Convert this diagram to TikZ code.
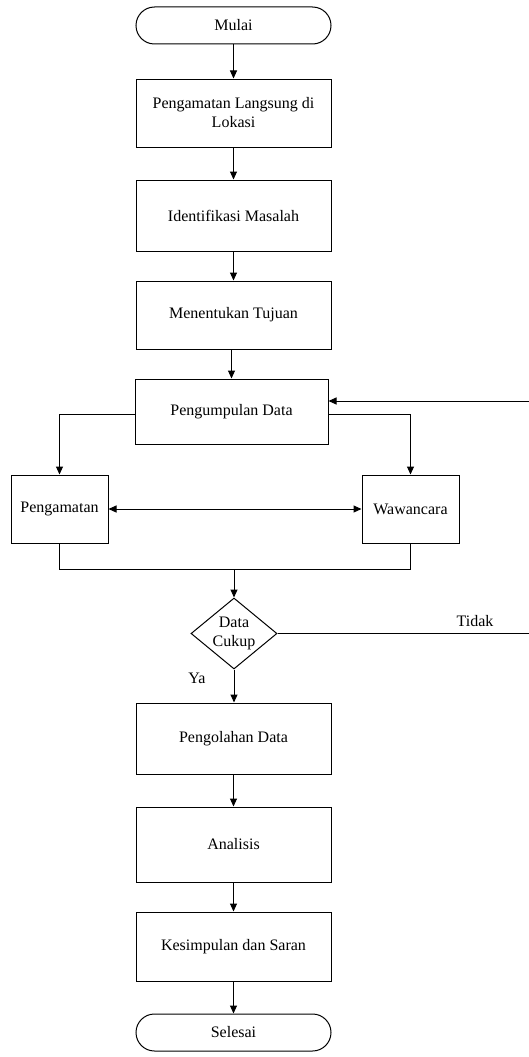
\documentclass[tikz,border=0pt]{standalone}
\usepackage{fontspec}
\setmainfont{Liberation Serif}
\usetikzlibrary{arrows.meta,shapes.geometric,shapes.misc}
\tikzset{
  every node/.style={font=\fontsize{16}{19}\selectfont},
  boxnode/.style={draw, line width=1pt, rectangle, minimum width=195pt, align=center, inner sep=0pt},
  termnode/.style={draw, line width=1pt, rounded rectangle, minimum width=195pt, minimum height=37pt, inner sep=0pt},
  conn/.style={line width=1pt, -{Triangle[length=8pt,width=7pt]}},
  plain/.style={line width=1pt},
}
\begin{document}
\begin{tikzpicture}[x=1pt,y=-1pt]
\useasboundingbox (0,0) rectangle (528,1057);
\node[termnode] (start) at (233.5,25.5) {Mulai};
\node[boxnode, minimum height=68pt] (b1) at (233.5,113) {Pengamatan Langsung di\\Lokasi};
\node[boxnode, minimum height=71pt] (b2) at (233.5,215.5) {Identifikasi Masalah};
\node[boxnode, minimum height=68pt] (b3) at (233.5,315) {Menentukan Tujuan};
\node[boxnode, minimum width=193pt, minimum height=65pt] (b4) at (231.5,411.5) {Pengumpulan Data};
\node[boxnode, minimum width=97pt, minimum height=68pt] (peng) at (59.5,509) {Pengamatan};
\node[boxnode, minimum width=97pt, minimum height=68pt] (waw) at (410.5,509) {Wawancara};
\node[draw, line width=1pt, diamond, minimum width=86pt, minimum height=71pt, inner sep=0pt,
      label={[align=center, inner sep=0pt, font=\fontsize{16}{19}\selectfont]center:Data\\Cukup}] (dec) at (234,633.5) {};
\node[boxnode, minimum height=71pt] (b5) at (233.5,738.5) {Pengolahan Data};
\node[boxnode, minimum height=75pt] (b6) at (233.5,844.5) {Analisis};
\node[boxnode, minimum height=69pt] (b7) at (233.5,946.5) {Kesimpulan dan Saran};
\node[termnode] (end) at (233.5,1032.5) {Selesai};

\node (tidak) at (475,621) {Tidak};
\node (ya) at (197,678) {Ya};

\coordinate (fbA) at (545,633.5);
\coordinate (fbB) at (545,401);
\coordinate (jl) at (59.5,569);
\coordinate (jr) at (410.5,569);
\coordinate (jm) at (234,569);

\draw[conn] (start) -- (b1);
\draw[conn] (b1) -- (b2);
\draw[conn] (b2) -- (b3);
\draw[conn] (b3.south -| b4.north) -- (b4.north);
\draw[conn] ([yshift=-2.5pt]b4.west) -| (peng.north);
\draw[conn] ([yshift=-2.5pt]b4.east) -| (waw.north);
\draw[line width=1pt, {Triangle[length=8pt,width=7pt]}-{Triangle[length=8pt,width=7pt]}] (peng.east) -- (waw.west);
\draw[plain] (peng.south) -- (jl) -- (jr) -- (waw.south);
\draw[conn] (jm) -- (dec.north);
\draw[conn] (dec.east) -- (fbA) -- (fbB) -- (fbB -| b4.east);
\draw[conn] (dec.south) -- (b5.north -| dec.south);
\draw[conn] (b5) -- (b6);
\draw[conn] (b6) -- (b7);
\draw[conn] (b7) -- (end);
\end{tikzpicture}
\end{document}
